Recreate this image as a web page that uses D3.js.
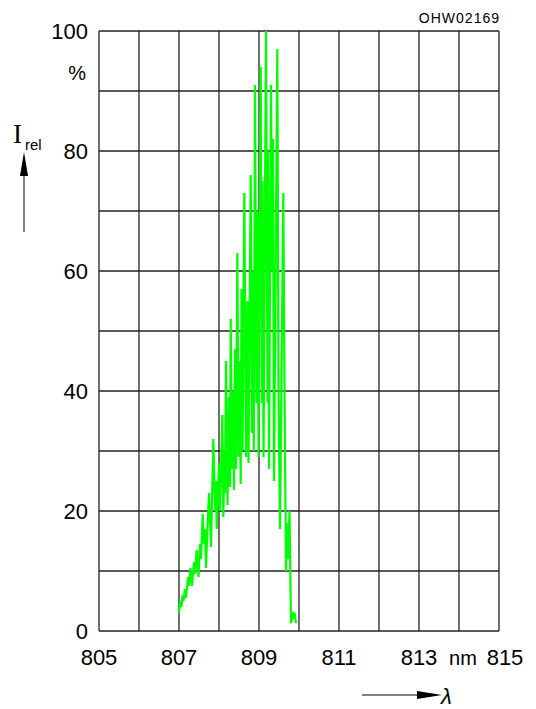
<!DOCTYPE html>
<html>
<head>
<meta charset="utf-8">
<script src="https://cdn.jsdelivr.net/npm/d3@7"></script>
<style>
  body { margin: 0; background: #fff; }
  text { font-family: "Liberation Sans", Arial, sans-serif; fill: #000; }
</style>
</head>
<body>
<div id="chart"></div>
<script>
// spectrum: wavelength (nm) and relative intensity (%)
const wavelength = [
  807.000, 807.038, 807.063, 807.088, 807.113, 807.150, 807.175, 807.225, 807.250, 807.288,
  807.325, 807.375, 807.400, 807.443, 807.488, 807.525, 807.550, 807.593, 807.625, 807.650,
  807.675, 807.708, 807.750, 807.800, 807.858, 807.900, 807.925, 807.943, 808.000, 808.025,
  808.083, 808.108, 808.138, 808.150, 808.175, 808.213, 808.250, 808.275, 808.293, 808.325,
  808.350, 808.375, 808.400, 808.425, 808.458, 808.488, 808.513, 808.543, 808.563, 808.588,
  808.633, 808.675, 808.713, 808.738, 808.793, 808.825, 808.850, 808.870, 808.900, 808.938,
  808.963, 808.988, 809.043, 809.075, 809.088, 809.113, 809.175, 809.213, 809.225, 809.250,
  809.300, 809.325, 809.350, 809.375, 809.458, 809.488, 809.525, 809.608, 809.638, 809.675,
  809.700, 809.725, 809.763, 809.800, 809.825, 809.863, 809.875, 809.888, 809.925
];
const intensity = [
  3.0, 5.0, 4.0, 6.0, 5.0, 7.0, 5.5, 9.0, 7.5, 10.5,
  7.5, 11.5, 9.5, 13.5, 9.0, 14.5, 12.0, 19.5, 14.5, 17.0,
  10.5, 16.5, 23.0, 14.0, 32.0, 20.0, 25.0, 17.0, 28.0, 20.0,
  36.0, 19.0, 30.0, 23.0, 45.0, 21.0, 39.0, 24.0, 52.0, 27.0,
  40.0, 23.5, 47.0, 27.0, 63.0, 29.0, 45.0, 24.5, 57.0, 30.0,
  73.0, 29.0, 55.0, 28.0, 76.0, 33.0, 60.0, 30.0, 91.0, 38.0,
  70.0, 29.0, 94.0, 38.0, 75.0, 29.0, 100.0, 38.0, 80.0, 27.0,
  91.0, 60.0, 82.0, 25.0, 97.0, 40.0, 17.0, 73.0, 40.0, 10.0,
  18.0, 12.0, 20.0, 1.3, 2.0, 3.2, 2.0, 3.0, 1.3
];

const xTicks = [805, 807, 809, 811, 813, 815];
const yTicks = [0, 20, 40, 60, 80, 100];
const xGrid = d3.range(805, 816, 1);
const yGrid = d3.range(0, 101, 10);

const W = 536, H = 709;
const margin = { top: 31, left: 99 };
const width = 400, height = 600;

const svg = d3.select("#chart").append("svg")
  .attr("width", W)
  .attr("height", H);

const g = svg.append("g")
  .attr("transform", `translate(${margin.left},${margin.top})`);

const x = d3.scaleLinear().domain([805, 815]).range([0, width]);
const y = d3.scaleLinear().domain([0, 100]).range([height, 0]);

// grid
g.selectAll(".vgrid")
  .data(xGrid)
  .enter()
  .append("line")
  .attr("x1", d => x(d)).attr("x2", d => x(d))
  .attr("y1", 0).attr("y2", height)
  .attr("stroke", "#222")
  .attr("stroke-width", 1.3);

g.selectAll(".hgrid")
  .data(yGrid)
  .enter()
  .append("line")
  .attr("x1", 0).attr("x2", width)
  .attr("y1", d => y(d)).attr("y2", d => y(d))
  .attr("stroke", "#222")
  .attr("stroke-width", 1.3);

// tick labels
g.selectAll(".ylab")
  .data(yTicks)
  .enter()
  .append("text")
  .attr("x", -11)
  .attr("y", d => y(d))
  .attr("dy", "0.36em")
  .attr("text-anchor", "end")
  .style("font-size", "22px")
  .text(d => d);

g.selectAll(".xlab")
  .data(xTicks)
  .enter()
  .append("text")
  .attr("x", d => x(d) + (d === 815 ? 6 : 0))
  .attr("y", height + 34)
  .attr("text-anchor", "middle")
  .style("font-size", "22px")
  .text(d => d);

// units
svg.append("text")
  .attr("x", 86).attr("y", 80)
  .attr("text-anchor", "end")
  .style("font-size", "20px")
  .text("%");

svg.append("text")
  .attr("x", 463).attr("y", height + margin.top + 34)
  .attr("text-anchor", "middle")
  .style("font-size", "20px")
  .text("nm");

svg.append("text")
  .attr("x", 500).attr("y", 23)
  .attr("text-anchor", "end")
  .style("font-size", "14px")
  .style("letter-spacing", "1px")
  .text("OHW02169");

// I_rel with arrow
svg.append("text")
  .attr("x", 13).attr("y", 143)
  .style("font-family", "'Liberation Serif', serif")
  .style("font-size", "27px")
  .text("I");
svg.append("text")
  .attr("x", 25).attr("y", 150)
  .style("font-size", "15px")
  .text("rel");
svg.append("line")
  .attr("x1", 24).attr("x2", 24)
  .attr("y1", 232).attr("y2", 170)
  .attr("stroke", "#000").attr("stroke-width", 1);
svg.append("path")
  .attr("d", "M24,152 L20,176 L28,176 Z")
  .attr("fill", "#000");

// lambda with arrow
svg.append("line")
  .attr("x1", 362).attr("x2", 420)
  .attr("y1", 695).attr("y2", 695)
  .attr("stroke", "#000").attr("stroke-width", 1);
svg.append("path")
  .attr("d", "M442,695 L417,691 L417,699 Z")
  .attr("fill", "#000");
svg.append("text")
  .attr("x", 441).attr("y", 704)
  .style("font-size", "22px")
  .style("font-style", "italic")
  .text("λ");

// spectrum
const pts = wavelength.map((w, i) => [w, intensity[i]]);
const line = d3.line()
  .x(d => x(d[0]))
  .y(d => y(d[1]));

g.append("path")
  .datum(pts)
  .attr("d", line)
  .attr("fill", "none")
  .attr("stroke", "#00ff00")
  .attr("stroke-width", 2.2)
  .attr("stroke-linejoin", "miter");
</script>
</body>
</html>
